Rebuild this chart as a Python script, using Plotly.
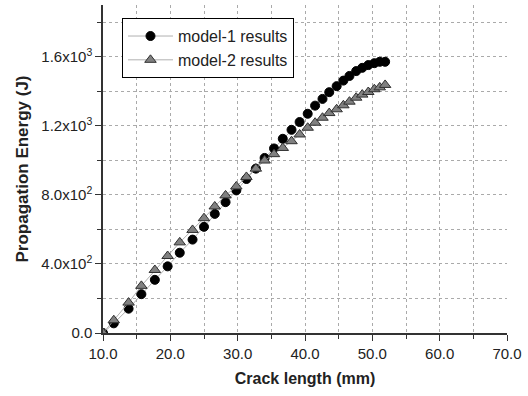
import plotly.graph_objects as go

crack_length = [10.0, 11.6, 13.8, 15.7, 17.7, 19.6, 21.4, 23.3, 25.0, 26.6, 28.2, 29.8,
                31.3, 32.7, 34.0, 35.4, 36.7, 38.0, 39.2, 40.4, 41.5, 42.6, 43.6, 44.7,
                45.7, 46.6, 47.6, 48.5, 49.4, 50.3, 51.1, 51.9]
model1 = [0, 56, 141, 225, 308, 386, 465, 541, 615, 690, 758, 826,
          892, 952, 1014, 1069, 1125, 1177, 1222, 1270, 1317, 1356, 1395, 1430,
          1462, 1489, 1517, 1536, 1552, 1563, 1571, 1571]
model2 = [0, 74, 176, 273, 365, 446, 525, 597, 665, 733, 797, 849,
          904, 952, 999, 1036, 1072, 1111, 1150, 1189, 1218, 1247, 1274, 1296,
          1319, 1340, 1363, 1381, 1396, 1412, 1423, 1437]

y_tickvals = [0, 400, 800, 1200, 1600]
y_ticktext = ["0.0", "4.0x10<sup>2</sup>", "8.0x10<sup>2</sup>", "1.2x10<sup>3</sup>", "1.6x10<sup>3</sup>"]
x_tickvals = [10, 20, 30, 40, 50, 60, 70]
x_ticktext = ["10.0", "20.0", "30.0", "40.0", "50.0", "60.0", "70.0"]

fig = go.Figure()
fig.add_trace(go.Scatter(
    x=crack_length, y=model1, mode="lines+markers", name="model-1 results",
    line=dict(color="#b0b0b0", width=1),
    marker=dict(symbol="circle", size=9, color="black", line=dict(color="black", width=1)),
))
fig.add_trace(go.Scatter(
    x=crack_length, y=model2, mode="lines+markers", name="model-2 results",
    line=dict(color="#b0b0b0", width=1),
    marker=dict(symbol="triangle-up", size=10, color="#808080", line=dict(color="#303030", width=1)),
))

font_family = "Liberation Sans, Arial, sans-serif"
fig.update_layout(
    width=528, height=396,
    margin=dict(l=103, r=21, t=5, b=63),
    paper_bgcolor="white", plot_bgcolor="white",
    font=dict(family=font_family, size=15, color="#222"),
    showlegend=True,
    legend=dict(x=0.047, y=0.96, xanchor="left", yanchor="top",
                bordercolor="black", borderwidth=1, bgcolor="white",
                font=dict(size=16, color="#222"), tracegroupgap=0,
                itemwidth=45),
    xaxis=dict(
        range=[10, 70], tickvals=x_tickvals, ticktext=x_ticktext,
        showline=True, linecolor="#333", linewidth=1.5,
        ticks="outside", ticklen=6, tickcolor="#333",
        showgrid=True, gridcolor="#aaa", griddash="dot", gridwidth=1,
        minor=dict(dtick=5, tick0=10, ticks="outside", ticklen=4, tickcolor="#333",
                   showgrid=True, gridcolor="#aaa", griddash="dot", gridwidth=1),
        zeroline=False,
        title=dict(text="<b>Crack length (mm)</b>", font=dict(size=16, color="#222"), standoff=12),
        tickfont=dict(size=15, color="#222"),
    ),
    yaxis=dict(
        range=[0, 1900], tickvals=y_tickvals, ticktext=y_ticktext,
        showline=True, linecolor="#333", linewidth=1.5,
        ticks="outside", ticklen=6, tickcolor="#333",
        showgrid=True, gridcolor="#aaa", griddash="dot", gridwidth=1,
        minor=dict(dtick=200, tick0=0, ticks="outside", ticklen=4, tickcolor="#333",
                   showgrid=True, gridcolor="#aaa", griddash="dot", gridwidth=1),
        zeroline=False,
        title=dict(text="<b>Propagation Energy (J)</b>", font=dict(size=17, color="#222"), standoff=8),
        tickfont=dict(size=15, color="#222"),
    ),
)

fig.write_html("out.html")
